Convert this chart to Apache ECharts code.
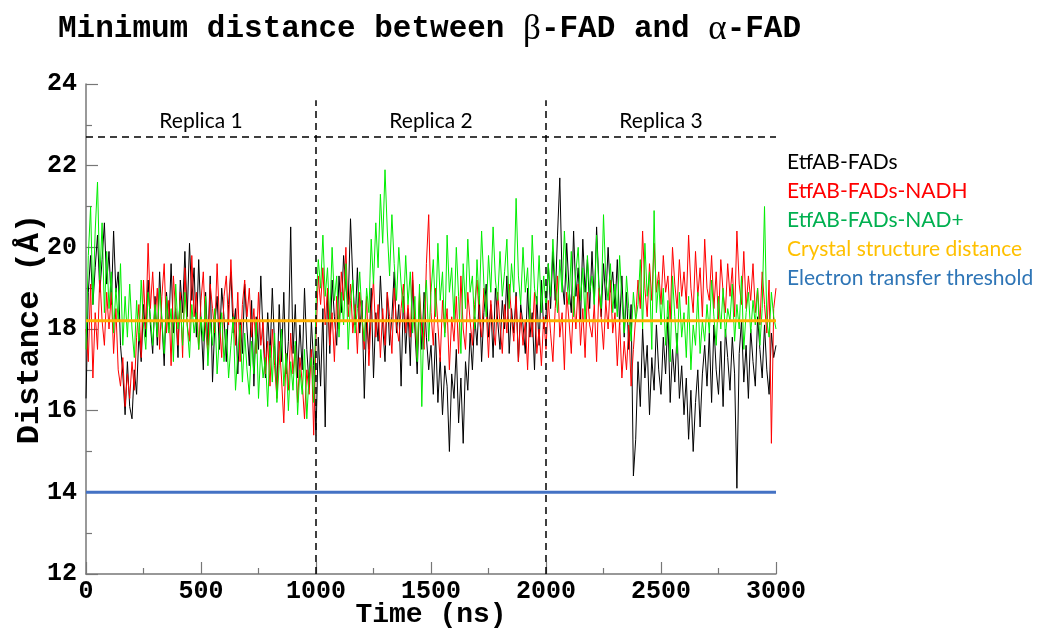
<!DOCTYPE html>
<html>
<head>
<meta charset="utf-8">
<script src="https://cdn.jsdelivr.net/npm/echarts@6/dist/echarts.min.js"></script>
<style>html,body{margin:0;padding:0;background:#fff;}#chart{width:1042px;height:629px;}</style>
</head>
<body>
<div id="chart"></div>
<script>
// Sampling step of the traces (ns)
const timeStepNs = 10;

// EtfAB-FADs (black), one value every 10 ns, 0..3000 ns
const etfabFads = [
16.3,18.9,19.8,18.6,19.5,20.3,18.9,19.7,20.6,19.1,
19.9,18.6,20.4,18.9,19.4,17.6,16.9,15.9,17.2,16.1,
15.8,17.0,16.4,17.9,17.2,18.6,17.8,19.2,18.1,17.4,
18.8,17.6,19.4,18.2,17.1,18.9,18.0,19.6,17.9,18.5,
17.3,19.2,18.4,19.9,18.3,20.1,18.7,19.5,17.8,19.7,
18.2,17.0,18.9,17.6,19.3,16.7,18.1,18.8,17.5,19.0,
18.3,17.2,18.6,19.4,17.9,18.5,16.9,18.2,17.4,19.1,
18.0,17.1,18.7,16.6,18.3,17.5,19.3,17.8,16.8,18.4,
17.3,19.0,17.6,16.5,18.6,17.2,18.9,16.9,17.7,20.5,
17.4,18.6,16.8,18.1,17.0,19.0,17.5,16.6,18.2,17.1,
15.4,17.8,16.6,18.5,15.6,18.9,17.4,19.2,18.3,17.6,
19.3,18.4,19.8,19.0,18.6,20.7,19.2,18.1,19.5,17.9,
18.7,16.3,18.2,17.5,19.0,16.8,18.4,17.7,19.3,18.1,
17.2,18.9,17.6,18.3,19.4,17.9,18.6,16.6,18.8,17.4,
18.5,17.1,19.2,18.0,16.9,18.7,17.5,18.9,17.8,17.0,
17.6,16.4,17.9,16.2,17.3,15.9,17.1,16.6,15.0,16.9,
16.3,17.5,15.7,16.8,15.2,17.2,16.5,17.9,17.0,18.3,
17.6,18.8,17.2,18.4,19.1,17.8,18.6,17.3,19.0,18.2,
17.5,18.7,18.0,19.3,17.4,18.5,17.9,18.9,17.2,18.6,
18.1,17.4,19.0,17.8,18.4,17.0,18.8,17.6,19.2,18.0,
18.3,19.6,18.5,19.9,18.7,20.3,21.7,19.2,18.6,20.1,
19.0,18.4,20.4,18.8,19.5,18.2,20.2,18.9,19.7,18.5,
19.9,18.6,20.5,19.1,18.3,19.6,18.7,20.0,18.9,19.4,
18.5,19.7,18.1,19.3,17.8,18.9,17.5,18.6,14.4,15.3,
17.2,16.1,18.0,16.8,17.6,15.9,17.3,16.5,18.1,17.0,
16.4,17.8,16.9,18.3,16.2,17.5,16.7,17.9,16.3,17.1,
15.9,16.8,15.3,16.5,15.0,16.2,17.0,15.6,16.9,17.6,
16.6,17.9,16.2,18.1,17.0,16.4,17.7,16.1,18.0,17.3,
16.5,17.8,16.9,14.1,17.4,18.2,16.7,17.6,16.3,18.0,
17.2,16.6,18.3,17.5,16.8,18.1,17.0,16.4,17.9,17.3,
17.6];

// EtfAB-FADs-NADH (red)
const etfabFadsNadh = [
18.0,17.2,19.1,16.8,18.4,17.5,19.3,18.2,17.6,18.9,
18.0,18.9,17.4,18.5,17.0,16.6,17.3,16.1,16.9,16.3,
17.2,16.5,17.8,18.6,17.3,19.2,18.0,20.1,18.5,19.4,
18.2,19.0,17.5,18.8,19.6,17.9,18.7,17.1,19.3,18.4,
17.6,18.9,17.3,19.5,18.1,17.7,19.8,18.3,18.9,17.5,
18.7,19.4,18.0,17.4,19.1,18.5,17.9,19.6,18.2,17.3,
18.8,19.3,18.1,19.7,18.4,17.6,18.9,17.2,18.6,19.2,
18.3,19.0,17.8,18.5,17.4,18.9,17.6,18.2,16.9,17.7,
16.6,18.0,17.1,16.3,17.7,16.8,15.7,17.4,16.5,17.9,
16.9,17.6,16.2,17.3,16.7,15.8,17.0,16.4,17.5,15.4,
17.8,19.3,18.6,19.5,18.1,19.0,17.6,18.4,17.2,18.8,
18.0,19.4,18.7,20.0,18.3,19.1,17.9,18.6,17.4,18.9,
18.2,17.5,18.8,17.1,18.4,19.2,17.8,18.6,17.3,18.5,
17.6,18.9,18.3,17.4,19.0,18.1,17.7,18.5,19.1,17.9,
18.6,17.8,19.4,18.2,17.3,18.9,18.0,17.5,19.6,20.8,
18.4,17.6,19.0,18.1,17.2,18.7,17.9,18.5,17.0,18.3,
17.7,18.8,17.4,19.3,18.0,17.5,18.9,18.2,17.6,18.6,
19.2,18.3,17.8,19.0,18.5,17.3,18.7,18.0,17.6,18.9,
18.1,17.4,18.6,17.9,19.1,18.3,17.7,18.8,17.2,18.4,
17.6,18.2,17.0,18.5,17.8,18.9,17.4,18.0,17.1,18.3,
17.5,18.7,17.9,17.2,18.5,19.3,17.8,18.4,17.0,18.9,
18.2,17.4,18.8,18.0,19.1,17.6,18.5,17.3,18.9,18.1,
17.8,18.6,17.2,19.0,18.3,17.5,18.7,18.0,19.2,17.9,
18.4,17.1,18.2,16.8,17.7,17.0,18.1,16.6,17.5,18.3,
19.2,18.5,20.4,19.0,18.3,19.6,18.7,20.1,18.9,19.4,
18.6,19.8,18.9,19.3,18.2,20.0,19.1,18.5,19.7,18.8,
19.4,18.6,20.3,19.0,18.4,19.9,18.8,19.5,18.3,20.2,
19.0,18.7,19.8,18.5,19.4,18.2,19.7,18.9,18.4,19.6,
18.8,19.5,18.3,20.4,19.1,18.6,19.9,18.5,19.3,18.7,
19.6,18.4,19.0,18.1,19.4,18.6,17.9,19.2,15.2,18.5,
19.0];

// EtfAB-FADs-NAD+ (green)
const etfabFadsNad = [
17.5,19.8,21.0,18.6,20.4,21.6,19.2,20.6,18.4,19.9,
18.5,19.4,17.9,19.0,18.2,19.6,17.6,18.8,17.8,19.1,
18.0,17.3,18.7,17.7,19.2,18.1,17.5,18.9,18.3,17.6,
18.6,17.8,19.0,18.2,17.4,18.8,17.9,18.5,17.2,19.1,
18.0,18.7,17.6,18.9,18.1,17.3,18.6,17.9,18.4,17.5,
18.3,17.7,18.8,17.1,18.2,17.6,18.5,16.9,17.8,18.4,
17.2,18.0,16.8,17.6,18.3,16.5,17.4,18.1,16.7,17.9,
17.0,16.4,17.7,16.9,18.2,16.3,17.5,16.8,17.3,16.1,
17.6,16.7,17.9,16.2,17.1,18.0,16.6,17.4,16.0,17.2,
16.5,17.7,15.9,17.0,16.4,17.5,15.8,16.9,17.3,16.2,
18.6,19.7,19.0,20.3,18.8,19.5,18.2,20.0,18.7,19.3,
17.8,18.9,18.1,19.6,17.5,18.7,19.2,17.9,18.5,19.4,
18.3,17.7,19.0,18.4,20.2,19.1,20.6,19.5,21.3,20.1,
21.9,20.4,19.3,20.8,19.6,18.7,20.0,19.1,18.4,19.8,
18.6,19.4,17.9,18.8,17.2,19.1,16.1,18.5,19.2,17.7,
18.9,19.7,18.3,20.1,18.7,19.4,17.8,20.3,18.9,19.5,
18.2,20.0,18.8,17.4,19.6,18.5,20.2,18.9,19.3,18.0,
19.7,18.6,20.4,19.1,18.3,19.8,18.9,20.5,19.2,18.7,
19.9,18.8,19.4,20.2,18.5,19.6,18.9,21.2,19.3,18.6,
20.0,18.9,19.5,18.2,20.3,19.0,18.6,19.8,18.4,19.3,
18.5,19.6,18.8,20.2,19.1,18.4,19.7,18.9,20.4,19.2,
18.6,19.9,18.3,19.4,20.0,18.7,19.5,18.2,19.8,18.9,
19.3,18.6,20.3,19.0,18.5,20.8,19.2,18.7,19.6,18.4,
19.1,18.3,19.8,18.7,17.9,19.3,18.5,17.7,18.9,18.2,
18.6,19.7,18.0,20.1,18.8,19.4,17.5,20.9,18.4,19.2,
18.1,19.0,17.6,18.7,17.2,19.3,18.3,17.4,18.9,17.8,
18.4,17.3,18.8,17.0,18.1,17.6,18.9,17.4,18.2,17.7,
18.6,17.9,19.2,18.3,17.6,18.8,18.0,19.0,17.8,18.5,
18.2,19.1,17.7,18.6,18.0,19.3,17.5,18.4,18.9,17.9,
18.7,18.1,19.0,17.6,18.5,21.0,18.2,17.8,18.9,18.3,
18.0];

// Reference levels (Å)
const crystalDistance = 18.2;
const transferThreshold = 14.0;

// Replica boundaries and labels
const replicaBounds = [1000, 2000];
const replicaLabels = ['Replica 1', 'Replica 2', 'Replica 3'];
const replicaCenters = [500, 1500, 2500];
const replicaLabelY = 23.1;
const replicaTopY = 23.6;
const replicaBandY = 22.7;

const seriesNames = ['EtfAB-FADs', 'EtfAB-FADs-NADH', 'EtfAB-FADs-NAD+', 'Crystal structure distance', 'Electron transfer threshold'];
const legendColors = ['#000000', '#ff0000', '#00b050', '#ffc000', '#2e75b6'];

const toPairs = arr => arr.map((v, i) => [i * timeStepNs, v]);
const tMax = (etfabFads.length - 1) * timeStepNs;

const mono = "'Liberation Mono', 'DejaVu Sans Mono', monospace";
const sans = "Lato, 'Noto Sans', sans-serif";

const chart = echarts.init(document.getElementById('chart'), null, {renderer: 'canvas'});

const dashed = {color: '#000', width: 1.5, type: [7, 5]};

chart.setOption({
  animation: false,
  backgroundColor: '#fff',
  title: {
    text: 'Minimum distance between {g|β}-FAD and {g|α}-FAD',
    left: 53, top: 7,
    textStyle: {
      fontFamily: mono, fontWeight: 'bold', fontSize: 31, color: '#000',
      rich: {g: {fontFamily: "'Liberation Serif', 'DejaVu Serif', serif", fontWeight: 'normal', fontSize: 35, color: '#000'}}
    }
  },
  legend: {
    orient: 'vertical', left: 777, top: 147, padding: 5,
    itemWidth: 0, itemHeight: 0, itemGap: 8,
    selectedMode: false,
    icon: 'rect',
    data: seriesNames.map((n, i) => ({name: n, textStyle: {color: legendColors[i]}})),
    textStyle: {fontFamily: sans, fontSize: 21}
  },
  grid: {left: 86, right: 266, top: 84, bottom: 55, containLabel: false, outerBoundsMode: 'none'},
  xAxis: {
    type: 'value', min: 0, max: 3000, interval: 500,
    name: 'Time (ns)', nameLocation: 'middle', nameGap: 27, nameMoveOverlap: false,
    nameTextStyle: {fontFamily: mono, fontWeight: 'bold', fontSize: 28, color: '#000'},
    axisLine: {show: true, onZero: false, lineStyle: {color: '#777', width: 1.5}},
    axisTick: {show: true, inside: true, length: 12, lineStyle: {color: '#777', width: 1.2}},
    minorTick: {show: true, splitNumber: 2, length: 6, lineStyle: {color: '#777', width: 1.2}},
    splitLine: {show: false},
    axisLabel: {fontFamily: mono, fontWeight: 'bold', fontSize: 25, color: '#000', margin: 5, formatter: v => String(v)}
  },
  yAxis: {
    type: 'value', min: 12, max: 24, interval: 2,
    name: 'Distance (Å)', nameLocation: 'middle', nameGap: 40, nameMoveOverlap: false,
    nameTextStyle: {fontFamily: mono, fontWeight: 'bold', fontSize: 32, color: '#000'},
    axisLine: {show: true, onZero: false, lineStyle: {color: '#777', width: 1.5}},
    axisTick: {show: true, inside: true, length: 12, lineStyle: {color: '#777', width: 1.2}},
    minorTick: {show: true, splitNumber: 2, length: 6, lineStyle: {color: '#777', width: 1.2}},
    splitLine: {show: false},
    axisLabel: {fontFamily: mono, fontWeight: 'bold', fontSize: 25, color: '#000', margin: 9, formatter: v => String(v)}
  },
  series: [
    {name: seriesNames[0], type: 'line', data: toPairs(etfabFads), showSymbol: false, symbol: 'none',
     lineStyle: {color: '#000000', width: 1}, itemStyle: {color: '#000000'}, z: 2},
    {name: seriesNames[1], type: 'line', data: toPairs(etfabFadsNadh), showSymbol: false, symbol: 'none',
     lineStyle: {color: '#ff0000', width: 1}, itemStyle: {color: '#ff0000'}, z: 3},
    {name: seriesNames[2], type: 'line', data: toPairs(etfabFadsNad), showSymbol: false, symbol: 'none',
     lineStyle: {color: '#00ee00', width: 1}, itemStyle: {color: '#00ee00'}, z: 4},
    {name: seriesNames[3], type: 'line', data: [[0, crystalDistance], [tMax, crystalDistance]], showSymbol: false, symbol: 'none',
     lineStyle: {color: '#ffb000', width: 3}, itemStyle: {color: '#ffc000'}, z: 6},
    {name: seriesNames[4], type: 'line', data: [[0, transferThreshold], [tMax, transferThreshold]], showSymbol: false, symbol: 'none',
     lineStyle: {color: '#4472c4', width: 3}, itemStyle: {color: '#2e75b6'}, z: 6,
     markLine: {
       silent: true, symbol: ['none', 'none'], label: {show: false},
       lineStyle: dashed,
       data: [
         ...replicaBounds.map(b => [{coord: [b, 12]}, {coord: [b, replicaTopY]}]),
         [{coord: [0, replicaBandY]}, {coord: [tMax, replicaBandY]}]
       ]
     },
     markPoint: {
       silent: true, symbol: 'rect', symbolSize: 0,
       label: {show: true, position: 'inside', fontFamily: sans, fontSize: 21, color: '#000', formatter: p => p.name},
       data: replicaLabels.map((n, i) => ({name: n, coord: [replicaCenters[i], replicaLabelY]}))
     }
    }
  ]
});
</script>
</body>
</html>
